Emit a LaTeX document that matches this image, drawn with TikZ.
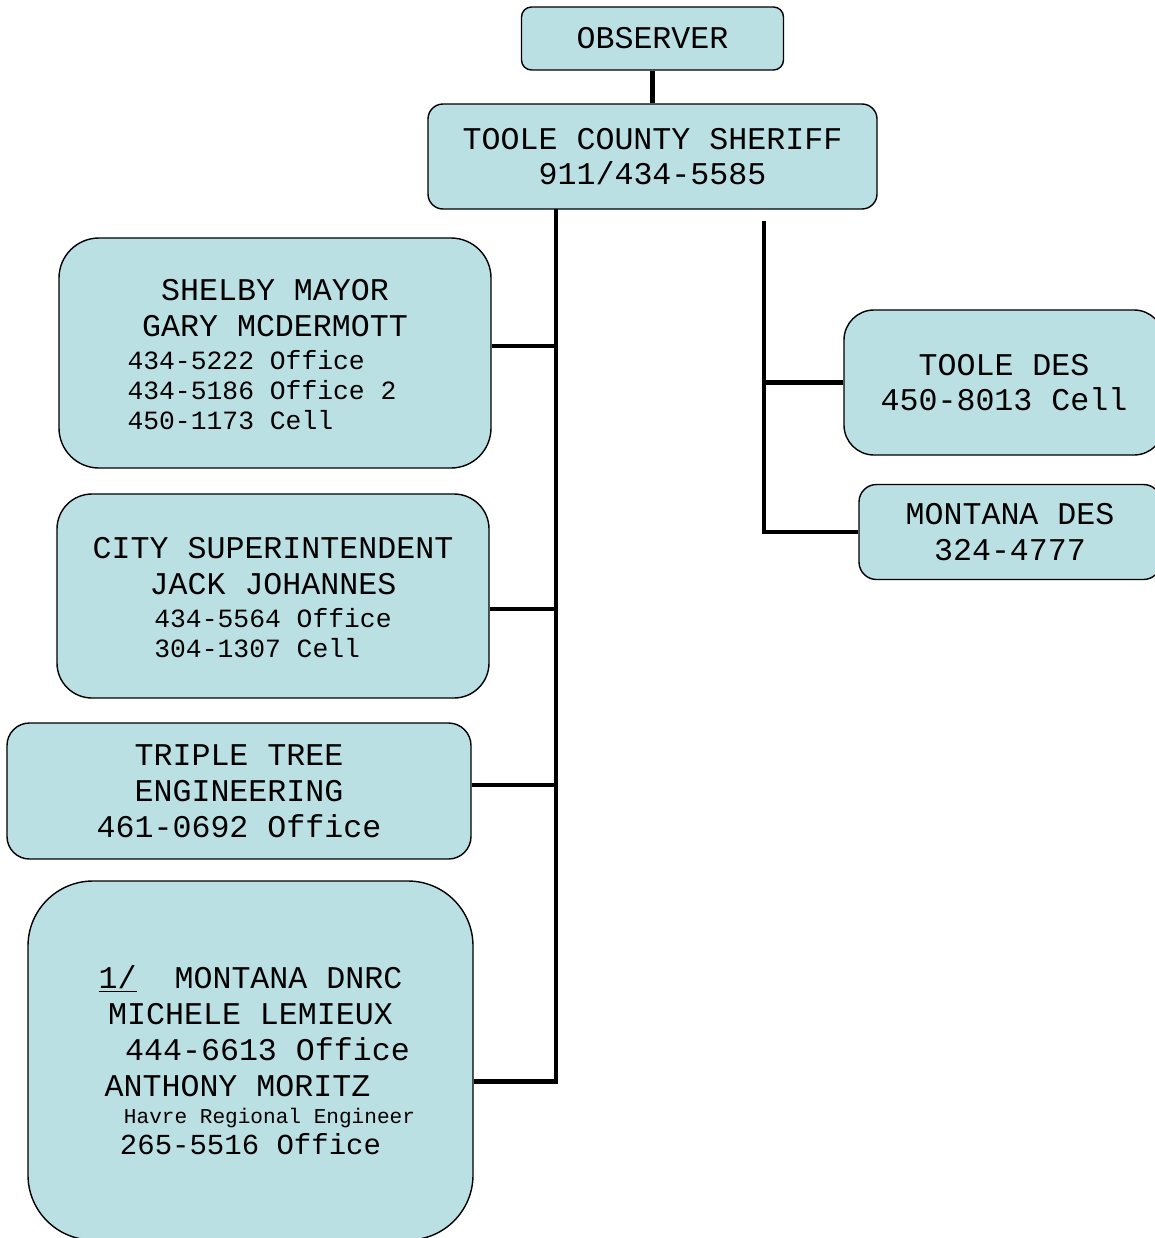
\documentclass[tikz,border=0pt]{standalone}
\usepackage{fontspec}
\setmainfont{Liberation Mono}

\definecolor{boxfill}{RGB}{187,224,227}
\newcommand{\phonesz}{\fontsize{15}{17}\selectfont}
\newcommand{\notesz}{\fontsize{12}{14}\selectfont}

\begin{document}
\begin{tikzpicture}
	\tikzstyle{box}  = [draw=black, line width=0.8pt, fill=boxfill, align=center, inner sep=0pt, font=\fontsize{18}{20.4}\selectfont]
	\tikzstyle{link} = [line width=2.8pt]

	\useasboundingbox (0,0) rectangle (23.1,-24.76);

	\node[box, rounded corners=0.2cm, minimum width=5.24cm, minimum height=1.26cm] (observer) at (13.05,-0.77) {OBSERVER};
	\node[box, rounded corners=0.3cm, minimum width=8.98cm, minimum height=2.1cm] (sheriff) at (13.05,-3.13) {TOOLE COUNTY SHERIFF\\911/434-5585};

	\node[box, rounded corners=0.8cm, minimum width=8.64cm, minimum height=4.6cm] (mayor) at (5.5,-7.06)
		{\rule{0pt}{18.7pt}SHELBY MAYOR\\GARY MCDERMOTT\\[-1.7pt]{\phonesz\begin{tabular}[t]{@{}l@{}}434-5222 Office\\434-5186 Office 2\\450-1173 Cell\end{tabular}\hspace*{0.52cm}\mbox{}}};
	\node[box, rounded corners=0.7cm, minimum width=8.64cm, minimum height=4.08cm] (city) at (5.46,-11.92)
		{\rule{0pt}{18.7pt}CITY SUPERINTENDENT\\JACK JOHANNES\\[-1.7pt]{\phonesz\begin{tabular}[t]{@{}l@{}}434-5564 Office\\304-1307 Cell\end{tabular}}};
	\node[box, rounded corners=0.45cm, minimum width=9.28cm, minimum height=2.72cm] (triple) at (4.78,-15.82)
		{TRIPLE TREE\\ENGINEERING\\461-0692 Office};
	\node[box, rounded corners=1.3cm, minimum width=8.9cm, minimum height=7.18cm] (dnrc) at (5.01,-21.21)
		{\underline{1/}\ \ MONTANA DNRC\\MICHELE LEMIEUX\\\hspace*{0.68cm}444-6613 Office\\ANTHONY MORITZ\hspace*{0.52cm}\mbox{}\\[-5.1pt]
		 {\notesz\hspace*{0.76cm}Havre Regional Engineer}\\[-2.3pt]{\fontsize{16.5}{18}\selectfont 265-5516 Office}};

	\node[box, rounded corners=0.6cm, minimum width=6.4cm, minimum height=2.9cm] (tdes) at (20.08,-7.65) {TOOLE DES\\450-8013 Cell};
	\node[box, rounded corners=0.35cm, minimum width=6.04cm, minimum height=1.9cm] (mdes) at (20.2,-10.64) {MONTANA DES\\324-4777};

	\draw[link] (observer) -- (sheriff);

	\coordinate (ltrunk) at (11.12,-4.18);
	\draw[link] (ltrunk) |- ([yshift=-0.42cm]dnrc.east);
	\foreach \n/\s in {mayor/0.14, city/-0.26, triple/0.12}
		\draw[link] ([yshift=\s cm]\n.east) -| (ltrunk);

	\coordinate (rtrunk) at (15.28,-4.42);
	\draw[link] (rtrunk) |- (mdes.west);
	\draw[link] (tdes.west) -| (rtrunk);
\end{tikzpicture}
\end{document}
